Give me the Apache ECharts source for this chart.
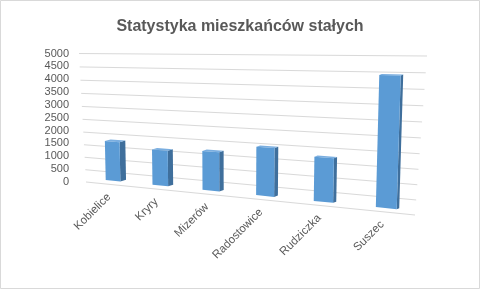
<!DOCTYPE html>
<html>
<head>
<meta charset="utf-8">
<script src="https://cdn.jsdelivr.net/npm/echarts@6/dist/echarts.min.js"></script>
<style>
html,body{margin:0;padding:0;background:#fff;}
#c{width:480px;height:289px;}
</style>
</head>
<body>
<div id="c"></div>
<script>
// ---- data ----
const titleText = 'Statystyka mieszkańców stałych';
const categories = ['Kobielice', 'Kryry', 'Mizerów', 'Radostowice', 'Rudziczka', 'Suszec'];
const residents = [1550, 1360, 1450, 1740, 1540, 4300];
const yTicks = [0, 500, 1000, 1500, 2000, 2500, 3000, 3500, 4000, 4500, 5000];

// ---- perspective (wall quad corners: BL, BR, TR, TL) ----
const Q = [[86, 182], [415, 215], [427, 56], [79, 53.5]];
function makeH(q) {
  const [x0, y0] = q[0], [x1, y1] = q[1], [x2, y2] = q[2], [x3, y3] = q[3];
  const dx1 = x1 - x2, dx2 = x3 - x2, dx3 = x0 - x1 + x2 - x3;
  const dy1 = y1 - y2, dy2 = y3 - y2, dy3 = y0 - y1 + y2 - y3;
  const den = dx1 * dy2 - dx2 * dy1;
  const g = (dx3 * dy2 - dx2 * dy3) / den;
  const h = (dx1 * dy3 - dx3 * dy1) / den;
  const a = x1 - x0 + g * x1, b = x3 - x0 + h * x3, c = x0;
  const d = y1 - y0 + g * y1, e = y3 - y0 + h * y3, f = y0;
  return function (u, w) {
    const z = g * u + h * w + 1;
    return [(a * u + b * w + c) / z, (d * u + e * w + f) / z];
  };
}
const H = makeH(Q);

function norm(cs, p) {
  return [(p[0] - cs.x) / cs.width, (cs.y + cs.height - p[1]) / cs.height];
}

const chart = echarts.init(document.getElementById('c'), null, {renderer: 'canvas'});
const FONT = 'Liberation Sans';

const option = {
  animation: false,
  backgroundColor: '#ffffff',
  title: {
    text: titleText,
    left: 'center',
    top: 14,
    textStyle: {fontSize: 16, fontWeight: 'bold', color: '#595959', fontFamily: FONT}
  },
  grid: {left: 86, right: 65, top: 53.5, bottom: 107},
  xAxis: {type: 'category', data: categories, show: false},
  yAxis: {
    type: 'value', min: 0, max: 5000, interval: 500,
    axisLine: {show: false}, axisTick: {show: false}, splitLine: {show: false},
    axisLabel: {color: '#595959', fontSize: 11, fontFamily: FONT, margin: 17,
                formatter: v => String(v)}
  },
  graphic: [{
    type: 'rect', shape: {x: 0.5, y: 0.5, width: 479, height: 288},
    style: {fill: null, stroke: '#d9d9d9', lineWidth: 1}, z: 100
  }],
  series: [
    {
      type: 'custom', name: 'grid', silent: true, z: 1,
      data: yTicks.map(v => [0, v]),
      renderItem: function (params, api) {
        const cs = params.coordSys;
        const n = norm(cs, api.coord([0, api.value(1)]));
        const a = H(0, n[1]), b = H(1, n[1]);
        return {
          type: 'line',
          shape: {x1: a[0], y1: a[1], x2: b[0], y2: b[1]},
          style: {stroke: '#d9d9d9', lineWidth: 1}
        };
      }
    },
    {
      type: 'custom', name: 'Mieszkańcy', z: 2,
      data: residents.map((v, i) => [i, v]),
      renderItem: function (params, api) {
        const cs = params.coordSys;
        const i = api.value(0), v = api.value(1);
        const top = norm(cs, api.coord([i, v]));
        const bandU = api.size([1, 0])[0] / cs.width;
        const u = top[0], w = top[1];
        const hw = bandU * 0.16;
        const shiftX = 4.5, lift = -3.5;
        const b0 = H(u - hw, 0), b1 = H(u + hw, 0);
        const t0r = H(u - hw, w), t1r = H(u + hw, w);
        const lean = 0.45;
        const t0 = [b0[0] + lean * (t0r[0] - b0[0]), t0r[1]];
        const t1 = [b1[0] + lean * (t1r[0] - b1[0]), t1r[1]];
        const sh = p => [p[0] + shiftX, p[1] + lift];
        const FBL = sh(b0), FBR = sh(b1), FTR = sh(t1), FTL = sh(t0);
        const ddx = 6 - 3.8 * u, ddy = -1.8 + 0.8 * u;
        const mv = p => [p[0] + ddx, p[1] + ddy];
        const cb = H(u, 0);
        const children = [
          {type: 'polygon', shape: {points: [FBR, mv(FBR), mv(FTR), FTR]}, style: {fill: '#3f6f9c'}},
          {type: 'polygon', shape: {points: [FTL, FTR, mv(FTR), mv(FTL)]}, style: {fill: '#7aaee0'}},
          {type: 'polygon', shape: {points: [FBL, FBR, FTR, FTL]}, style: {fill: '#5b9bd5'}},
          {
            type: 'text', x: cb[0] + 0.5, y: cb[1] + 11, rotation: Math.PI / 4,
            style: {text: categories[i], align: 'right', verticalAlign: 'middle',
                    fill: '#595959', fontSize: 11.5, fontFamily: FONT}
          }
        ];
        return {type: 'group', children: children};
      }
    }
  ]
};
chart.setOption(option);
</script>
</body>
</html>
